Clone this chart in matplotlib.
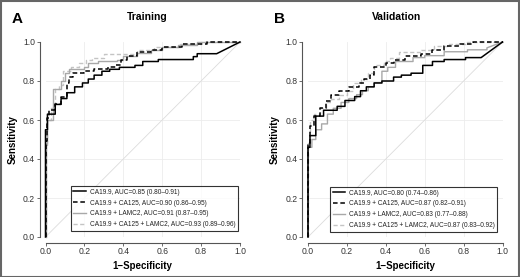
import matplotlib
matplotlib.use("Agg")
import matplotlib.pyplot as plt
from matplotlib.patches import Rectangle

plt.rcParams['font.family'] = ['Liberation Sans', 'DejaVu Sans']

# ---------------- data ----------------
panel_letters = ["A", "B"]
panel_titles = ["Training", "Validation"]

series_names = ["CA19.9", "CA19.9 + CA125", "CA19.9 + LAMC2", "CA19.9 + CA125 + LAMC2"]

auc_train = ["0.85 (0.80\u20130.91)", "0.90 (0.86\u20130.95)", "0.91 (0.87\u20130.95)", "0.93 (0.89\u20130.96)"]
auc_valid = ["0.80 (0.74\u20130.86)", "0.87 (0.82\u20130.91)", "0.83 (0.77\u20130.88)", "0.87 (0.83\u20130.92)"]

# Training curves (1-specificity, sensitivity)
trA_ca199_fpr = [0, 0, 0.01, 0.01, 0.05, 0.05, 0.08, 0.08, 0.11, 0.11, 0.15, 0.15, 0.19, 0.19, 0.22, 0.22, 0.25, 0.25, 0.29, 0.29, 0.33, 0.33, 0.38, 0.38, 0.46, 0.46, 0.50, 0.50, 0.58, 0.58, 0.76, 0.76, 0.78, 0.78, 0.88, 1.0]
trA_ca199_tpr = [0, 0.55, 0.55, 0.63, 0.63, 0.68, 0.68, 0.71, 0.71, 0.74, 0.74, 0.77, 0.77, 0.79, 0.79, 0.81, 0.81, 0.83, 0.83, 0.85, 0.85, 0.86, 0.86, 0.87, 0.87, 0.88, 0.88, 0.90, 0.90, 0.91, 0.91, 0.925, 0.925, 0.94, 0.94, 1.0]

trA_ca125_fpr = [0, 0, 0.01, 0.01, 0.02, 0.02, 0.05, 0.05, 0.08, 0.08, 0.11, 0.11, 0.12, 0.12, 0.14, 0.14, 0.20, 0.20, 0.25, 0.25, 0.32, 0.32, 0.36, 0.36, 0.39, 0.39, 0.42, 0.42, 0.47, 0.47, 0.54, 0.54, 0.60, 0.60, 0.70, 0.70, 0.83, 0.83, 1.0]
trA_ca125_tpr = [0, 0.49, 0.49, 0.61, 0.61, 0.65, 0.65, 0.68, 0.68, 0.72, 0.72, 0.79, 0.79, 0.82, 0.82, 0.84, 0.84, 0.85, 0.85, 0.86, 0.86, 0.87, 0.87, 0.88, 0.88, 0.91, 0.91, 0.93, 0.93, 0.95, 0.95, 0.96, 0.96, 0.975, 0.975, 0.99, 0.99, 1.0, 1.0]

trA_lamc2_fpr = [0, 0, 0.01, 0.01, 0.04, 0.04, 0.08, 0.08, 0.10, 0.10, 0.12, 0.12, 0.20, 0.20, 0.22, 0.22, 0.27, 0.27, 0.37, 0.37, 0.40, 0.40, 0.47, 0.47, 0.54, 0.54, 0.60, 0.60, 0.68, 0.68, 0.78, 0.78, 1.0]
trA_lamc2_tpr = [0, 0.47, 0.47, 0.60, 0.60, 0.76, 0.76, 0.80, 0.80, 0.84, 0.84, 0.86, 0.86, 0.87, 0.87, 0.89, 0.89, 0.90, 0.90, 0.91, 0.91, 0.93, 0.93, 0.945, 0.945, 0.96, 0.96, 0.975, 0.975, 0.985, 0.985, 1.0, 1.0]

trA_all_fpr = [0, 0, 0.01, 0.01, 0.03, 0.03, 0.05, 0.05, 0.07, 0.07, 0.09, 0.09, 0.13, 0.13, 0.17, 0.17, 0.21, 0.21, 0.24, 0.24, 0.30, 0.30, 0.47, 0.47, 0.56, 0.56, 0.69, 0.69, 0.80, 0.80, 1.0]
trA_all_tpr = [0, 0.48, 0.48, 0.60, 0.60, 0.66, 0.66, 0.76, 0.76, 0.78, 0.78, 0.85, 0.85, 0.87, 0.87, 0.89, 0.89, 0.91, 0.91, 0.92, 0.92, 0.94, 0.94, 0.96, 0.96, 0.975, 0.975, 0.99, 0.99, 1.0, 1.0]

# Validation curves
vaB_ca199_fpr = [0, 0, 0.01, 0.01, 0.04, 0.04, 0.08, 0.08, 0.15, 0.15, 0.19, 0.19, 0.24, 0.24, 0.27, 0.27, 0.30, 0.30, 0.34, 0.34, 0.38, 0.38, 0.44, 0.44, 0.48, 0.48, 0.53, 0.53, 0.59, 0.59, 0.64, 0.64, 0.70, 0.70, 0.81, 0.81, 0.89, 1.0]
vaB_ca199_tpr = [0, 0.46, 0.46, 0.52, 0.52, 0.62, 0.62, 0.65, 0.65, 0.67, 0.67, 0.70, 0.70, 0.72, 0.72, 0.75, 0.75, 0.77, 0.77, 0.79, 0.79, 0.80, 0.80, 0.82, 0.82, 0.83, 0.83, 0.84, 0.84, 0.88, 0.88, 0.90, 0.90, 0.91, 0.91, 0.92, 0.92, 1.0]

vaB_ca125_fpr = [0, 0, 0.01, 0.01, 0.03, 0.03, 0.06, 0.06, 0.09, 0.09, 0.12, 0.12, 0.16, 0.16, 0.21, 0.21, 0.26, 0.26, 0.29, 0.29, 0.32, 0.32, 0.34, 0.34, 0.40, 0.40, 0.44, 0.44, 0.50, 0.50, 0.58, 0.58, 0.64, 0.64, 0.70, 0.70, 0.78, 0.78, 0.85, 0.85, 1.0]
vaB_ca125_tpr = [0, 0.48, 0.48, 0.57, 0.57, 0.62, 0.62, 0.66, 0.66, 0.70, 0.70, 0.73, 0.73, 0.75, 0.75, 0.77, 0.77, 0.79, 0.79, 0.81, 0.81, 0.83, 0.83, 0.87, 0.87, 0.89, 0.89, 0.91, 0.91, 0.93, 0.93, 0.94, 0.94, 0.96, 0.96, 0.98, 0.98, 0.99, 0.99, 1.0, 1.0]

vaB_lamc2_fpr = [0, 0, 0.02, 0.02, 0.04, 0.04, 0.07, 0.07, 0.10, 0.10, 0.13, 0.13, 0.17, 0.17, 0.21, 0.21, 0.25, 0.25, 0.28, 0.28, 0.31, 0.31, 0.34, 0.34, 0.38, 0.38, 0.41, 0.41, 0.45, 0.45, 0.54, 0.54, 0.60, 0.60, 0.70, 0.70, 0.82, 0.82, 0.92, 0.92, 1.0]
vaB_lamc2_tpr = [0, 0.46, 0.46, 0.50, 0.50, 0.55, 0.55, 0.58, 0.58, 0.63, 0.63, 0.66, 0.66, 0.69, 0.69, 0.71, 0.71, 0.73, 0.73, 0.75, 0.75, 0.77, 0.77, 0.79, 0.79, 0.85, 0.85, 0.87, 0.87, 0.90, 0.90, 0.92, 0.92, 0.93, 0.93, 0.95, 0.95, 0.96, 0.96, 0.97, 1.0]

vaB_all_fpr = [0, 0, 0.01, 0.01, 0.03, 0.03, 0.06, 0.06, 0.09, 0.09, 0.12, 0.12, 0.16, 0.16, 0.20, 0.20, 0.23, 0.23, 0.27, 0.27, 0.31, 0.31, 0.34, 0.34, 0.39, 0.39, 0.42, 0.42, 0.47, 0.47, 0.58, 0.58, 0.65, 0.65, 0.72, 0.72, 0.82, 0.82, 1.0]
vaB_all_tpr = [0, 0.48, 0.48, 0.60, 0.60, 0.63, 0.63, 0.66, 0.66, 0.69, 0.69, 0.71, 0.71, 0.73, 0.73, 0.75, 0.75, 0.79, 0.79, 0.81, 0.81, 0.84, 0.84, 0.88, 0.88, 0.90, 0.90, 0.92, 0.92, 0.95, 0.95, 0.96, 0.96, 0.98, 0.98, 0.99, 0.99, 1.0, 1.0]

tick_values = [0.0, 0.2, 0.4, 0.6, 0.8, 1.0]
tick_labels = ["0.0", "0.2", "0.4", "0.6", "0.8", "1.0"]

# ---------------- styles ----------------
styles = [
    dict(color="black", lw=1.1, ls="-"),
    dict(color="black", lw=1.1, ls=(0, (3.0, 1.8))),
    dict(color="#a8a8a8", lw=1.0, ls="-"),
    dict(color="#c4c4c4", lw=1.0, ls=(0, (3.0, 1.8))),
]

W, H = 520, 277
fig = plt.figure(figsize=(W / 100, H / 100), dpi=100)

panels = [
    dict(left=45.5, curves=[(trA_ca199_fpr, trA_ca199_tpr), (trA_ca125_fpr, trA_ca125_tpr),
                            (trA_lamc2_fpr, trA_lamc2_tpr), (trA_all_fpr, trA_all_tpr)],
         aucs=auc_train, letter_x=12, title_x=147, leg=(0.99, 0.031)),
    dict(left=308, curves=[(vaB_ca199_fpr, vaB_ca199_tpr), (vaB_ca125_fpr, vaB_ca125_tpr),
                           (vaB_lamc2_fpr, vaB_lamc2_tpr), (vaB_all_fpr, vaB_all_tpr)],
         aucs=auc_valid, letter_x=274, title_x=397, leg=(0.974, 0.026)),
]

top_px, bot_px, w_px = 42, 237, 194.5

for i, p in enumerate(panels):
    ax = fig.add_axes([p["left"] / W, (H - bot_px) / H, w_px / W, (bot_px - top_px) / H])
    ax.set_xlim(0, 1)
    ax.set_ylim(0, 1)
    ax.set_facecolor("white")
    for v in tick_values[1:-1]:
        ax.axvline(v, color="#ececec", lw=0.6, zorder=0)
        ax.axhline(v, color="#ececec", lw=0.6, zorder=0)
    ax.plot([0, 1], [0, 1], color="#dcdcdc", lw=0.6, zorder=1)

    handles = []
    for (fx, fy), st, name, auc in zip(p["curves"], styles, series_names, p["aucs"]):
        h, = ax.plot(fx, fy, color=st["color"], lw=st["lw"], linestyle=st["ls"],
                     clip_on=False, zorder=3, label=f"{name}, AUC={auc}")
        handles.append(h)
    for h, z in zip(handles, [5, 4, 3, 2]):
        h.set_zorder(z)

    for s in ["top", "right"]:
        ax.spines[s].set_visible(False)
    for s in ["left", "bottom"]:
        ax.spines[s].set_position(("outward", 4))
        ax.spines[s].set_bounds(0, 1)
        ax.spines[s].set_color("#555555")
        ax.spines[s].set_linewidth(0.8)
    ax.set_xticks(tick_values)
    ax.set_yticks(tick_values)
    ax.set_xticklabels(tick_labels)
    ax.set_yticklabels(tick_labels)
    ax.tick_params(length=2, width=0.6, color="#555555", labelsize=6.2,
                   labelcolor="#333333", pad=1.5)
    ax.set_xlabel("1\u2212Specificity", fontsize=7, fontweight="bold", labelpad=3)
    ax.set_ylabel("Sensitivity", fontsize=7, fontweight="bold", labelpad=4)

    lx, ly = p["leg"]
    leg = ax.legend(handles=handles, loc="lower right", bbox_to_anchor=(lx, ly),
                    fontsize=4.7, frameon=True, fancybox=False, handlelength=1.9,
                    handletextpad=0.6, borderpad=0.4, labelspacing=0.6,
                    borderaxespad=0, edgecolor="black")
    leg.get_frame().set_linewidth(0.8)
    leg.set_zorder(10)
    for t in leg.get_texts():
        t.set_color("#222222")

    fig.text(p["title_x"] / W, 1 - 17 / H, panel_titles[i], fontsize=7.5,
             fontweight="bold", ha="center", va="center")
    fig.text(p["letter_x"] / W, 1 - 19 / H, panel_letters[i], fontsize=11,
             fontweight="bold", ha="left", va="center")

fig.add_artist(Rectangle((0.5 / W, 0.5 / H), 1 - 1.5 / W, 1 - 1.5 / H,
                         transform=fig.transFigure, fill=False,
                         edgecolor="#666666", lw=1.5))

fig.savefig("out.png", dpi=100)
